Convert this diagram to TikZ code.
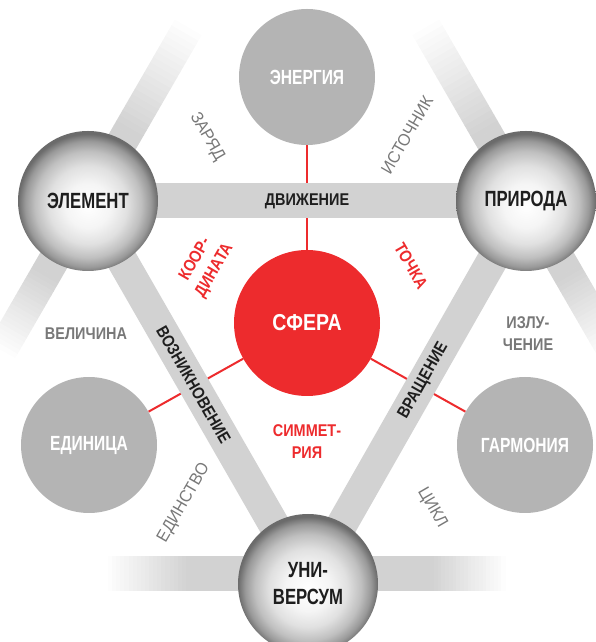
\documentclass[tikz,border=0pt]{standalone}
\usepackage{fontspec}
\setmainfont{Liberation Sans}
\newfontfamily\headfont{Liberation Sans}[FakeStretch=0.76]
\newfontfamily\labelfont{Liberation Sans}[FakeStretch=0.85]
\newfontfamily\plainfont{Liberation Sans}[FakeStretch=0.94]
\usepackage{xcolor}
\definecolor{sfred}{RGB}{237,43,45}
\definecolor{sfgray}{RGB}{180,180,180}
\definecolor{sfbar}{RGB}{210,210,210}
\definecolor{sftext}{RGB}{120,120,120}
\definecolor{sfdark}{RGB}{30,30,30}
\usepackage{tikz}
\usetikzlibrary{calc, backgrounds}

\pgfdeclareradialshading{sphereshade}{\pgfpoint{0bp}{-2bp}}{%
  color(0bp)=(white); color(8bp)=(black!4); color(14bp)=(black!12);
  color(19bp)=(black!25); color(22.5bp)=(black!40); color(25bp)=(black!58);
  color(50bp)=(black!60)}

\tikzset{
  ballnode/.style={circle, shade, shading=sphereshade, minimum size=140pt, inner sep=0pt,
    align=center, text=sfdark, font=\headfont\bfseries\fontsize{22}{27}\selectfont},
  discnode/.style={circle, fill=sfgray, minimum size=136pt, inner sep=0pt,
    text=white, font=\headfont\bfseries\fontsize{20.5}{24}\selectfont},
  corenode/.style={circle, fill=sfred, minimum size=146pt, inner sep=0pt,
    text=white, font=\labelfont\bfseries\fontsize{23}{26}\selectfont},
  mainbar/.style={sfbar, line width=31pt},
  redlink/.style={sfred, line width=2pt},
  barlabel/.style={text=sfdark, font=\labelfont\bfseries\fontsize{17}{21}\selectfont},
  redlabel/.style={text=sfred, align=center, font=\labelfont\bfseries\fontsize{17}{22}\selectfont},
  graylabel/.style={text=sftext, align=center, font=\labelfont\bfseries\fontsize{17}{22}\selectfont},
  thinlabel/.style={text=sftext, font=\plainfont\fontsize{17}{21}\selectfont},
}

\begin{document}
\begin{tikzpicture}[x=1pt, y=1pt]
  \useasboundingbox (0,0) rectangle (596,642);

  % Circles
  \node[discnode] (energia) at (307,565) {ЭНЕРГИЯ};
  \node[ballnode] (element) at (88,441) {ЭЛЕМЕНТ};
  \node[ballnode] (priroda) at (526,441) {ПРИРОДА};
  \node[corenode] (sfera) at (307,319) {СФЕРА};
  \node[discnode] (edinitsa) at (89,197) {ЕДИНИЦА};
  \node[discnode] (garmonia) at (525,197) {ГАРМОНИЯ};
  \node[ballnode] (universum) at (308,58) {УНИ-\\ВЕРСУМ};

  \begin{scope}[on background layer]
    % Red links
    \draw[redlink] (energia) -- (sfera);
    \draw[redlink] (sfera) -- (edinitsa);
    \draw[redlink] (sfera) -- (garmonia);

    % Faded ends: solid part, then 20 steps to white
    \foreach \pos/\ang/\solid/\fade/\dy/\w in {element/60/78/122/0/15.5, element/240/82/90/0/15.5,
        priroda/120/78/122/0/15.5, priroda/300/82/90/0/15.5,
        universum/0/122/75/10/17.5, universum/180/118/82/10/17.5} {
      \begin{scope}[shift={($(\pos)+(0,\dy)$)}, rotate=\ang]
        \fill[sfbar] (0,-\w) rectangle (\solid+0.5,\w);
        \foreach \k in {0,...,19} {
          \pgfmathtruncatemacro{\pct}{100-5*\k}
          \fill[sfbar!\pct!white] ({\solid+\k*\fade/20},-\w) rectangle ({\solid+(\k+1)*\fade/20+0.5},\w);
        }
      \end{scope}
    }

    % Triangle bars
    \draw[mainbar, line width=35pt] (element.center) -- (priroda.center);
    \draw[mainbar] (element.center) -- (universum.center);
    \draw[mainbar] (priroda.center) -- (universum.center);
  \end{scope}

  % Bar labels
  \path (element.center) -- (priroda.center) node[midway, barlabel] {ДВИЖЕНИЕ};
  \path (element.center) -- (universum.center) node[pos=0.48, sloped, barlabel] {ВОЗНИКНОВЕНИЕ};
  \path (universum.center) -- (priroda.center) node[pos=0.53, sloped, barlabel] {ВРАЩЕНИЕ};

  % Free labels
  \node[thinlabel, rotate=-60] (zaryad) at (207,505) {ЗАРЯД};
  \node[thinlabel, rotate=60] (istochnik) at (407,507) {ИСТОЧНИК};
  \node[redlabel, rotate=60] (koordinata) at (205,377) {КООР-\\ДИНАТА};
  \node[redlabel, rotate=-60] (tochka) at (411,376) {ТОЧКА};
  \node[graylabel] (velichina) at (86,308) {ВЕЛИЧИНА};
  \node[graylabel] (izluchenie) at (528,308) {ИЗЛУ-\\ЧЕНИЕ};
  \node[redlabel] (simmetriya) at (307,200) {СИММЕТ-\\РИЯ};
  \node[thinlabel, rotate=60] (edinstvo) at (184,139) {ЕДИНСТВО};
  \node[thinlabel, rotate=-60] (tsikl) at (432,134) {ЦИКЛ};
\end{tikzpicture}
\end{document}
